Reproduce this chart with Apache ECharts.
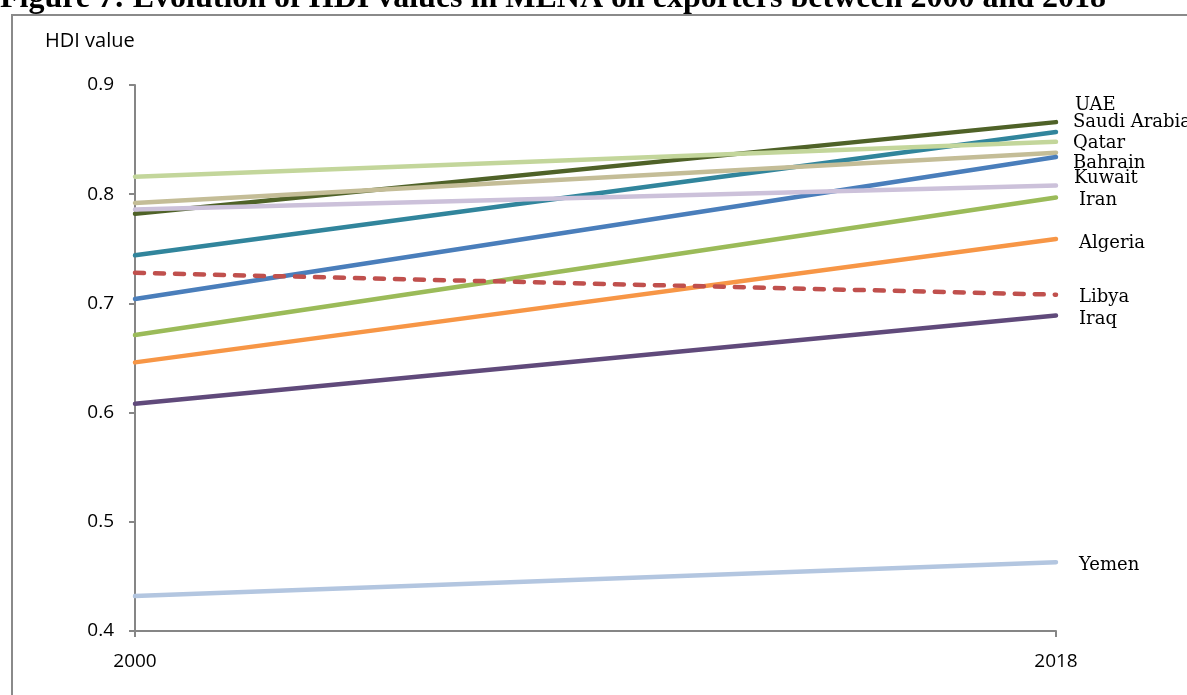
<!DOCTYPE html>
<html>
<head>
<meta charset="utf-8">
<script src="https://cdn.jsdelivr.net/npm/echarts@6/dist/echarts.min.js"></script>
<style>
  html, body { margin: 0; padding: 0; background: #fff; }
  #chart { width: 1187px; height: 695px; }
</style>
</head>
<body>
<div id="chart"></div>
<script>
// HDI values, 2000 and 2018
const years = ['2000', '2018'];
const yTicks = [0.4, 0.5, 0.6, 0.7, 0.8, 0.9];

const uae = [0.782, 0.866];
const saudiArabia = [0.744, 0.857];
const qatar = [0.816, 0.848];
const bahrain = [0.792, 0.838];
const oman = [0.704, 0.834];
const kuwait = [0.786, 0.808];
const iran = [0.671, 0.797];
const algeria = [0.646, 0.759];
const libya = [0.728, 0.708];
const iraq = [0.608, 0.689];
const yemen = [0.432, 0.463];

const seriesDefs = [
  { name: 'UAE', data: uae, color: '#4F6228', label: [19, -17] },
  { name: 'Saudi Arabia', data: saudiArabia, color: '#31859C', label: [17, -10] },
  { name: 'Qatar', data: qatar, color: '#C3D69B', label: [17, 2] },
  { name: 'Bahrain', data: bahrain, color: '#C4BD97', label: [17, 11] },
  { name: 'Oman', data: oman, color: '#4A7EBB', label: null },
  { name: 'Kuwait', data: kuwait, color: '#CCC1DA', label: [18, -7] },
  { name: 'Iran', data: iran, color: '#9BBB59', label: [23, 3] },
  { name: 'Algeria', data: algeria, color: '#F79646', label: [23, 4] },
  { name: 'Libya', data: libya, color: '#C0504D', label: [23, 3], dashed: true },
  { name: 'Iraq', data: iraq, color: '#604A7B', label: [23, 4] },
  { name: 'Yemen', data: yemen, color: '#B3C6E0', label: [23, 3] }
];

const axisColor = '#868686';
const sansFont = '"Open Sans", sans-serif';
const serifFont = '"DejaVu Serif", serif';

const chart = echarts.init(document.getElementById('chart'), null, { renderer: 'canvas' });

chart.setOption({
  animation: false,
  backgroundColor: '#ffffff',
  grid: { left: 135, right: 131, top: 85, bottom: 64 },
  graphic: [
    {
      type: 'rect',
      shape: { x: 12, y: 15, width: 1200, height: 700 },
      style: { fill: 'none', stroke: '#8a8a8a', lineWidth: 2 },
      z: 0
    },
    {
      type: 'text',
      x: 0,
      y: -17,
      style: {
        text: 'Figure 7: Evolution of HDI values in MENA oil exporters between 2000 and 2018',
        font: 'bold 32px "Liberation Serif", serif',
        fill: '#000'
      }
    },
    {
      type: 'text',
      x: 45,
      y: 41,
      style: {
        text: 'HDI value',
        font: '20px ' + sansFont,
        fill: '#000',
        textVerticalAlign: 'middle'
      }
    }
  ],
  xAxis: {
    type: 'category',
    data: years,
    boundaryGap: false,
    axisLine: { lineStyle: { color: axisColor, width: 2 } },
    axisTick: { show: true, length: 6, lineStyle: { color: axisColor, width: 2 } },
    axisLabel: { margin: 21, color: '#000', fontSize: 19, fontFamily: sansFont },
    splitLine: { show: false }
  },
  yAxis: {
    type: 'value',
    min: yTicks[0],
    max: yTicks[yTicks.length - 1],
    interval: 0.1,
    axisLine: { show: true, lineStyle: { color: axisColor, width: 2 } },
    axisTick: { show: true, length: 6, lineStyle: { color: axisColor, width: 2 } },
    axisLabel: {
      margin: 21,
      color: '#000',
      fontSize: 19,
      fontFamily: sansFont,
      formatter: v => v.toFixed(1)
    },
    splitLine: { show: false }
  },
  series: seriesDefs.map(s => ({
    name: s.name,
    type: 'line',
    data: s.data,
    symbol: 'none',
    lineStyle: {
      color: s.color,
      width: 4.5,
      type: s.dashed ? [9, 11] : 'solid',
      cap: 'round'
    },
    itemStyle: { color: s.color },
    endLabel: s.label ? {
      show: true,
      formatter: '{a}',
      distance: 0,
      offset: s.label,
      color: '#000',
      fontSize: 18,
      fontFamily: serifFont,
      align: 'left',
      verticalAlign: 'middle'
    } : { show: false },
    emphasis: { disabled: true }
  }))
});
</script>
</body>
</html>
